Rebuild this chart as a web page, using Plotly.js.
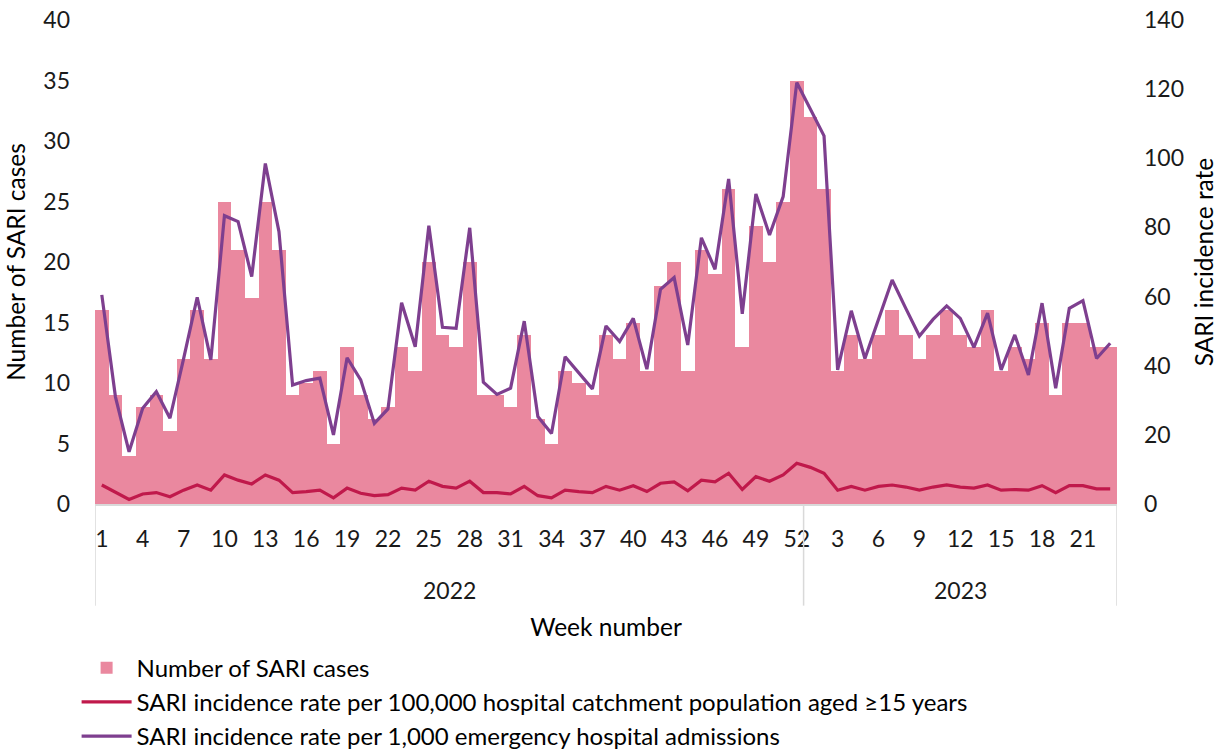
<!DOCTYPE html>
<html>
<head>
<meta charset="utf-8">
<script src="https://cdn.plot.ly/plotly-3.0.1.min.js"></script>
<style>html,body{margin:0;padding:0;background:#fff;}#chart{width:1226px;height:751px;}</style>
</head>
<body>
<div id="chart"></div>
<script>
const years = ["2022","2022","2022","2022","2022","2022","2022","2022","2022","2022","2022","2022","2022","2022","2022","2022","2022","2022","2022","2022","2022","2022","2022","2022","2022","2022","2022","2022","2022","2022","2022","2022","2022","2022","2022","2022","2022","2022","2022","2022","2022","2022","2022","2022","2022","2022","2022","2022","2022","2022","2022","2022",
"2023","2023","2023","2023","2023","2023","2023","2023","2023","2023","2023","2023","2023","2023","2023","2023","2023","2023","2023","2023","2023","2023","2023"];
const weeks = [1,2,3,4,5,6,7,8,9,10,11,12,13,14,15,16,17,18,19,20,21,22,23,24,25,26,27,28,29,30,31,32,33,34,35,36,37,38,39,40,41,42,43,44,45,46,47,48,49,50,51,52,
1,2,3,4,5,6,7,8,9,10,11,12,13,14,15,16,17,18,19,20,21,22,23];
const sariCases = [16,9,4,8,9,6,12,16,12,25, 21,17,25,21,9,10,11,5,13,9, 7,8,13,11,20,14,13,20,9,9, 8,14,7,5,11,10,9,14,12,15, 11,18,20,11,21,19,26,13,23,20, 25,35,
32,26,11,14,12,14,16,14,12,14, 16,14,13,16,11,13,12,15,9,15, 15,13,13];
const ratePer100k = [5.5,3.4,1.3,2.9,3.3,2.1,4.0,5.5,4.0,8.4, 6.9,5.8,8.4,6.9,3.3,3.6,4.0,1.8,4.6,3.1, 2.4,2.7,4.6,4.0,6.6,5.1,4.6,6.6,3.3,3.3, 2.9,5.1,2.4,1.8,4.0,3.6,3.3,5.1,4.0,5.3, 3.6,6.0,6.4,3.8,6.9,6.4,8.9,4.2,7.9,6.6, 8.4,11.8,
10.6,8.9,4.0,5.1,4.0,5.1,5.5,4.9,4.0,4.9, 5.5,4.9,4.6,5.5,4.0,4.2,4.0,5.3,3.3,5.3, 5.3,4.4,4.4];
const ratePer1000 = [60.5,31.0,15.1,27.7,32.5,24.8,42,59.8,41.7,83.4, 81.7,65.8,98.5,78.8,34.4,35.7,36.4,20.0,42.3,35.9, 23.3,27.5,58.2,45.5,80.5,51.1,50.8,79.9,35.2,31.7, 33.5,52.9,25.3,20.4,42.6,37.8,33.3,51.5,47.0,53.7, 39.0,62.1,65.5,46.0,77.0,67.9,94.0,55.0,89.7,77.8, 88.9,121.9,
114.0,106.5,38.8,55.9,42.1,53.7,64.8,56.6,48.6,53.4, 57.3,53.7,45.3,55.2,38.8,48.9,37.3,58.1,33.5,56.6, 58.8,42.1,46.5];

const FONT = "Lato, 'Open Sans', sans-serif";
const TICK = 23, TITLE = 24.5;
const idx = weeks.map((w, i) => i + 1);
const tickvals = idx.filter((v, i) => i % 3 === 0);
const ticktext = tickvals.map(v => String(weeks[v - 1]));

// year groups
const groups = [];
years.forEach((y, i) => {
  const g = groups.length ? groups[groups.length - 1] : null;
  if (g && g.year === y) { g.end = i + 1; } else { groups.push({year: y, start: i + 1, end: i + 1}); }
});
const shapes = [];
const annotations = [];
const divColor = "#d9d9d9";
groups.forEach((g, k) => {
  if (k === 0) shapes.push({type: "line", xref: "x", yref: "paper", x0: g.start - 0.5, x1: g.start - 0.5, y0: 0, y1: -0.21, line: {color: divColor, width: 1.5}});
  shapes.push({type: "line", xref: "x", yref: "paper", x0: g.end + 0.5, x1: g.end + 0.5, y0: 0, y1: -0.21, line: {color: divColor, width: 1.5}});
  annotations.push({xref: "x", yref: "paper", x: (g.start + g.end) / 2, y: -0.178, text: g.year, showarrow: false, font: {family: FONT, size: TICK, color: "#1a1a1a"}, yanchor: "middle"});
});

const traces = [
  {type: "bar", x: idx, y: sariCases, name: "Number of SARI cases", marker: {color: "#EA889F", line: {width: 0}}, yaxis: "y", hoverinfo: "y"},
  {type: "scatter", mode: "lines", x: idx, y: ratePer100k, name: "SARI incidence rate per 100,000 hospital catchment population aged \u226515 years", line: {color: "#C0194B", width: 3.2}, yaxis: "y2"},
  {type: "scatter", mode: "lines", x: idx, y: ratePer1000, name: "SARI incidence rate per 1,000 emergency hospital admissions", line: {color: "#7E3F8F", width: 3.2}, yaxis: "y2"}
];

const layout = {
  width: 1226, height: 751,
  margin: {l: 95, r: 109, t: 20, b: 247, autoexpand: false},
  paper_bgcolor: "#fff", plot_bgcolor: "#fff",
  font: {family: FONT, size: TICK, color: "#1a1a1a"},
  bargap: 0,
  showlegend: true,
  xaxis: {
    automargin: false,
    range: [0.5, idx.length + 0.5], tickmode: "array", tickvals: tickvals, ticktext: ticktext,
    showgrid: false, zeroline: false, showline: true, linecolor: divColor, linewidth: 1.5,
    ticks: "", ticklabelstandoff: 14, tickfont: {family: FONT, size: TICK, color: "#1a1a1a"},
    title: {text: "Week number", font: {family: FONT, size: TITLE, color: "#000"}, standoff: 68}
  },
  yaxis: {
    automargin: false,
    range: [0, 40], dtick: 5, showgrid: false, zeroline: false, showline: false, ticks: "",
    ticklabelstandoff: 24, tickfont: {family: FONT, size: TICK, color: "#1a1a1a"},
    title: {text: "Number of SARI cases", font: {family: FONT, size: TITLE, color: "#000"}, standoff: 10}
  },
  yaxis2: {
    automargin: false,
    range: [0, 140], dtick: 20, overlaying: "y", side: "right", showgrid: false, zeroline: false, showline: false, ticks: "",
    ticklabelstandoff: 26, tickfont: {family: FONT, size: TICK, color: "#1a1a1a"},
    title: {text: "SARI incidence rate", font: {family: FONT, size: TITLE, color: "#000"}, standoff: 12}
  },
  legend: {orientation: "v", x: -0.018, xanchor: "left", y: -0.2925, yanchor: "top", traceorder: "normal",
    font: {family: FONT, size: 24, color: "#000"}, bgcolor: "rgba(0,0,0,0)", tracegroupgap: 0, itemwidth: 50},
  shapes: shapes,
  annotations: annotations
};

Plotly.newPlot("chart", traces, layout, {staticPlot: true, displayModeBar: false});
</script>
</body>
</html>
